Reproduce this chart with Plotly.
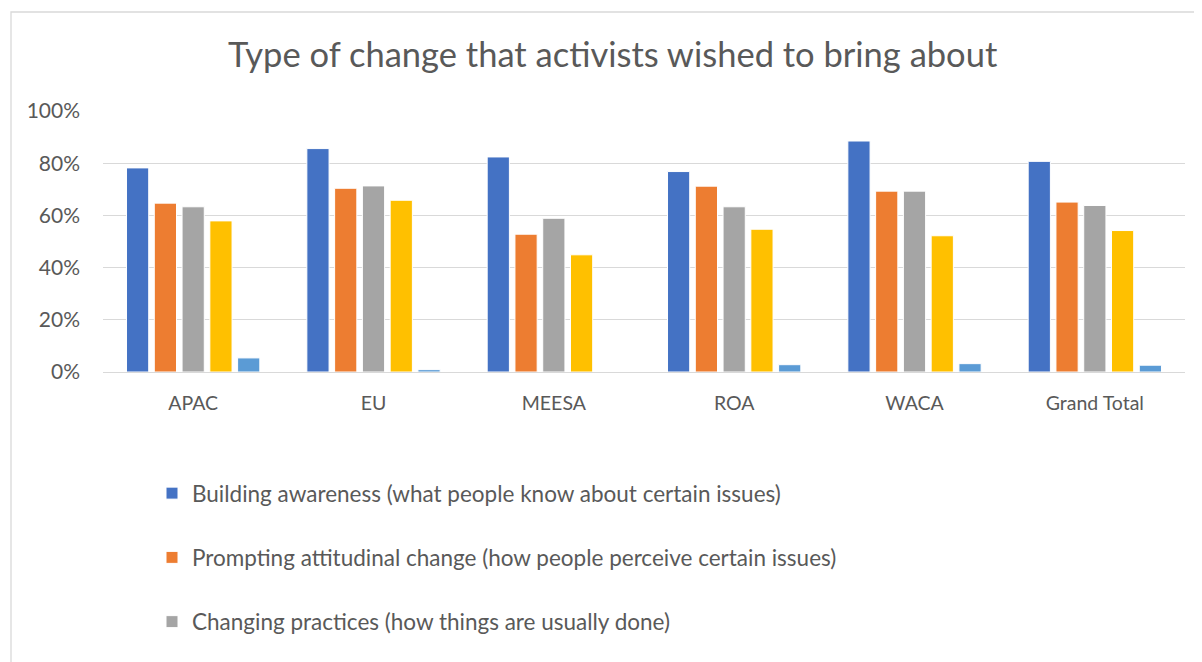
import plotly.graph_objects as go

categories = ["APAC", "EU", "MEESA", "ROA", "WACA", "Grand Total"]

series_names = [
    "Building awareness (what people know about certain issues)",
    "Prompting attitudinal change (how people perceive certain issues)",
    "Changing practices (how things are usually done)",
    "Changing policies",
    "Other",
]

awareness = [0.782, 0.856, 0.824, 0.768, 0.885, 0.807]
attitudinal = [0.647, 0.704, 0.528, 0.712, 0.693, 0.651]
practices = [0.633, 0.713, 0.589, 0.633, 0.693, 0.638]
policies = [0.579, 0.658, 0.449, 0.547, 0.522, 0.542]
other = [0.054, 0.009, 0.0, 0.028, 0.032, 0.026]

series_values = [awareness, attitudinal, practices, policies, other]
colors = ["#4472C4", "#ED7D31", "#A5A5A5", "#FFC000", "#5B9BD5"]
show_in_legend = [True, True, True, False, False]

FONT = "Lato"
TXT = "#595959"

fig = go.Figure()
for i, (name, vals, col, sl) in enumerate(zip(series_names, series_values, colors, show_in_legend)):
    fig.add_trace(go.Bar(
        x=categories, y=vals, name=name,
        marker=dict(color=col, line=dict(color="white", width=1)),
        showlegend=sl, legendgroup=f"g{i}",
        hovertemplate="%{x}: %{y:.0%}<extra></extra>",
    ))

# page has an 8px body margin; layout is offset to compensate
fig.update_layout(
    width=1202, height=662,
    paper_bgcolor="white", plot_bgcolor="white",
    margin=dict(l=95, r=25, t=103, b=298),
    barmode="group", bargap=0.23, bargroupgap=0.2,
    font=dict(family=FONT, color=TXT, size=18),
    title=dict(
        text="Type of change that activists wished to bring about",
        x=0.503, xref="container", xanchor="center",
        y=1 - 47 / 662, yref="container", yanchor="middle",
        font=dict(family=FONT, size=34.5, color=TXT),
    ),
    legend=dict(
        orientation="v",
        x=(152 - 103) / 1082, xanchor="left",
        y=(372 - 472) / 261, yanchor="top",
        font=dict(family=FONT, size=22.5, color=TXT),
        tracegroupgap=32,
        bgcolor="rgba(0,0,0,0)",
        itemclick=False,
    ),
    xaxis=dict(
        showgrid=False, showline=False, ticks="",
        tickfont=dict(family=FONT, size=19.5, color=TXT),
        ticklabelstandoff=17,
    ),
    yaxis=dict(
        range=[0, 1.0], dtick=0.2, tickformat=".0%",
        showgrid=True, gridcolor="#D9D9D9", gridwidth=1.3,
        zeroline=True, zerolinecolor="#D9D9D9", zerolinewidth=1.3,
        showline=False, ticks="",
        tickfont=dict(family=FONT, size=21, color=TXT),
        ticklabelstandoff=22,
    ),
    shapes=[dict(
        type="rect", xref="paper", yref="paper",
        x0=(11 - 103) / 1082, x1=(1225 - 103) / 1082,
        y0=(372 - 690) / 261, y1=(372 - 12) / 261,
        line=dict(color="#D9D9D9", width=1.3), fillcolor="rgba(0,0,0,0)",
        layer="below",
    )],
)

fig.write_html("out.html")
